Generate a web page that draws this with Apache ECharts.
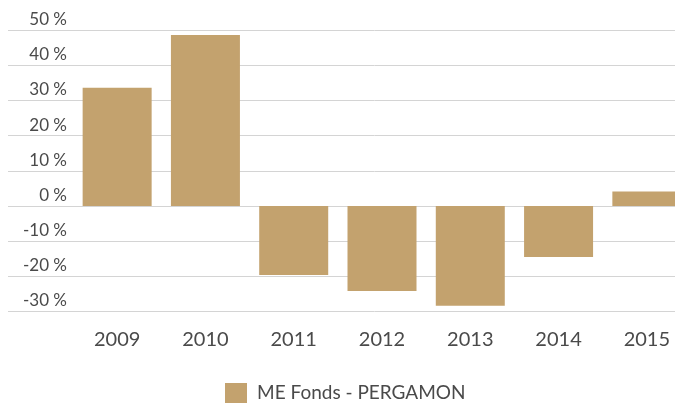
<!DOCTYPE html>
<html>
<head>
<meta charset="utf-8">
<script src="https://cdn.jsdelivr.net/npm/echarts@6/dist/echarts.min.js"></script>
<style>html,body{margin:0;padding:0;background:#fff;}#c{width:675px;height:403px;}</style>
</head>
<body>
<div id="c"></div>
<script>
const categories = ['2009', '2010', '2011', '2012', '2013', '2014', '2015'];
const seriesName = 'ME Fonds - PERGAMON';
const values = [33.6, 48.6, -19.6, -24.2, -28.4, -14.5, 4.1];
const yMin = -30, yMax = 50, yStep = 10;

const chart = echarts.init(document.getElementById('c'), null, {renderer: 'canvas'});
chart.setOption({
  animation: false,
  backgroundColor: '#ffffff',
  textStyle: {fontFamily: 'Lato'},
  grid: {left: 73, width: 618, top: 30, height: 281.5, containLabel: false, outerBoundsMode: 'none'},
  legend: {
    data: [seriesName], top: 383, left: 225, padding: 0,
    itemWidth: 22, itemHeight: 20, itemGap: 10,
    icon: 'rect',
    textStyle: {fontSize: 19, color: '#4a4a4a', fontFamily: 'Lato', padding: [0, 0, 0, 5]}
  },
  xAxis: {
    type: 'category', data: categories,
    axisLine: {show: false}, axisTick: {show: false},
    axisLabel: {fontSize: 20, color: '#4a4a4a', margin: 18, fontFamily: 'Lato'}
  },
  yAxis: {
    type: 'value', min: yMin, max: yMax, interval: yStep,
    axisLine: {show: false},
    axisTick: {show: true, length: 65, lineStyle: {color: '#d4d4d4', width: 1}},
    splitLine: {show: true, lineStyle: {color: '#d4d4d4', width: 1}},
    axisLabel: {
      fontSize: 17, color: '#4a4a4a', margin: 6, verticalAlign: 'bottom',
      padding: [0, 0, 2, 0], fontFamily: 'Lato',
      formatter: v => v + ' %'
    }
  },
  series: [{
    name: seriesName, type: 'bar', data: values,
    barWidth: 69,
    itemStyle: {color: '#c3a26e'}
  }]
});
</script>
</body>
</html>
